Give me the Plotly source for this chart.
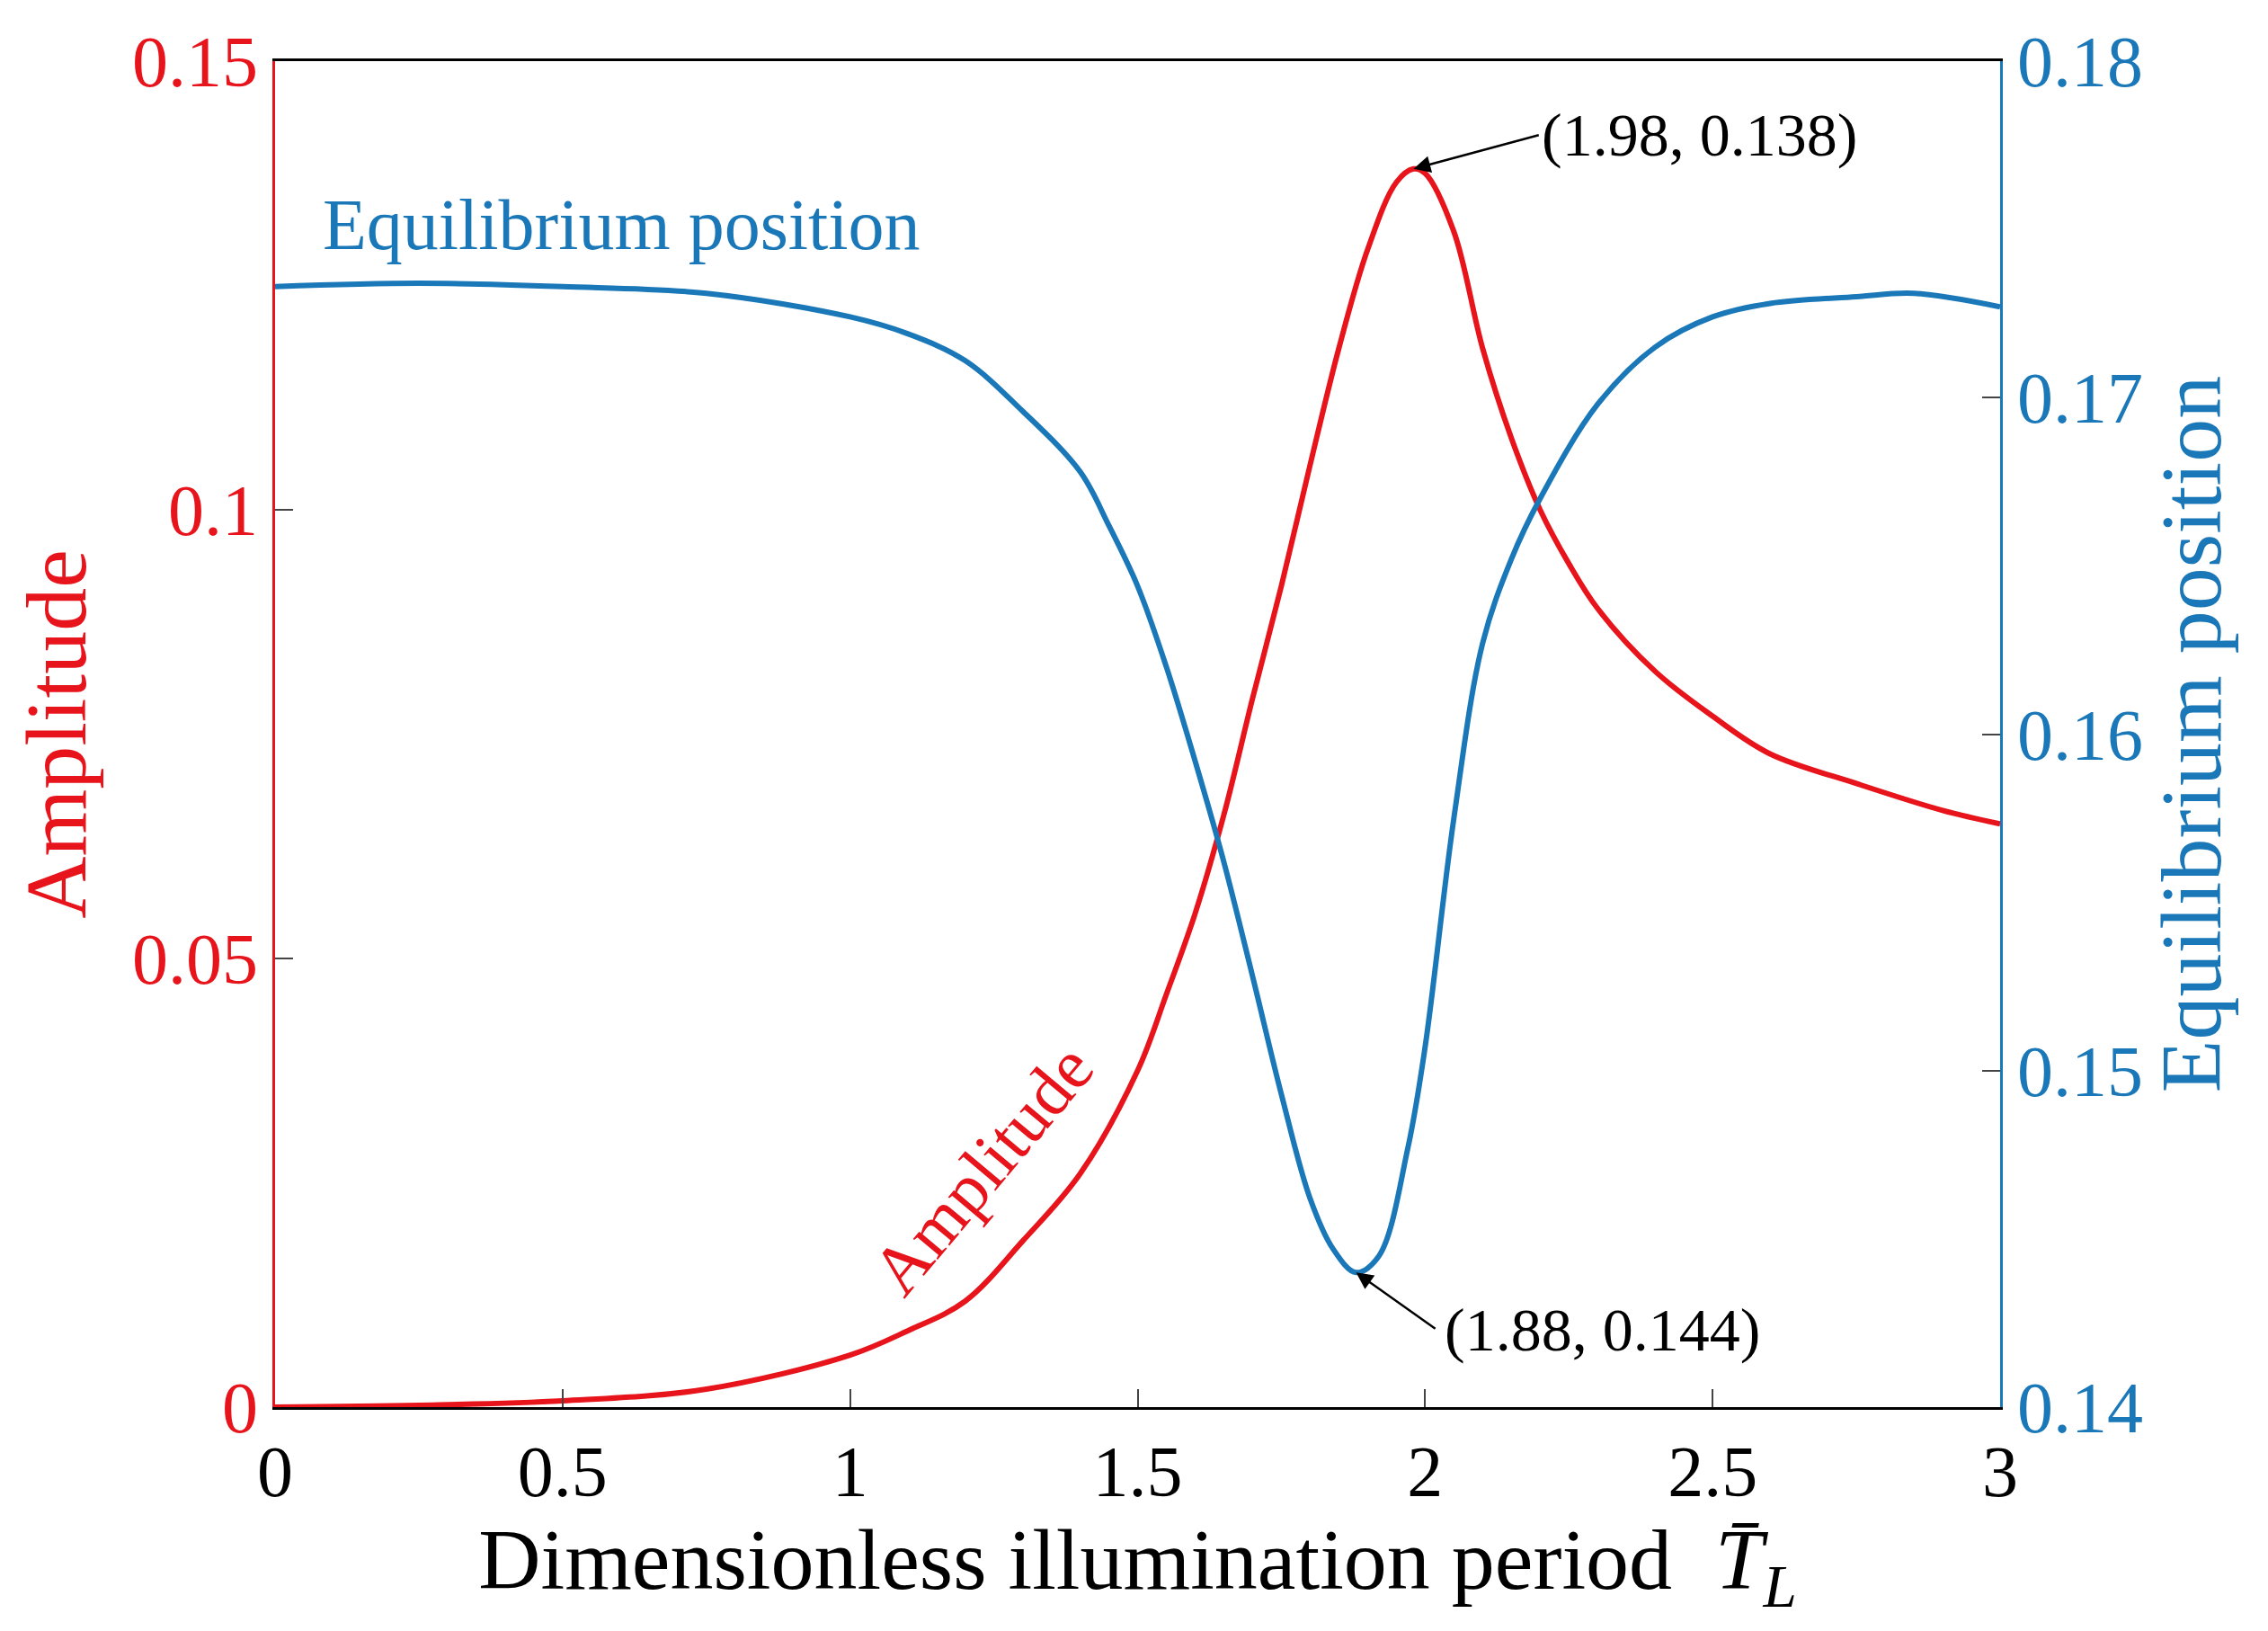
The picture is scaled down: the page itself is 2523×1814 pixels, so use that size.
import plotly.graph_objects as go

x_amp = [0, 0.25, 0.5, 0.75, 1.0, 1.1, 1.2, 1.3, 1.4, 1.5, 1.55, 1.6, 1.65, 1.7, 1.75, 1.8, 1.85, 1.9, 1.95, 1.98, 2.0, 2.05, 2.1, 2.15, 2.2, 2.25, 2.3, 2.4, 2.5, 2.6, 2.75, 2.9, 3.0]
amp =   [0, 0.0002, 0.0007, 0.002, 0.0058, 0.0085, 0.0118, 0.0185, 0.026, 0.0375, 0.046, 0.055, 0.066, 0.079, 0.0915, 0.105, 0.118, 0.129, 0.1365, 0.138, 0.1375, 0.131, 0.118, 0.108, 0.1, 0.094, 0.089, 0.082, 0.077, 0.0728, 0.0695, 0.0665, 0.065]

x_eq = [0, 0.25, 0.5, 0.75, 1.0, 1.1, 1.2, 1.3, 1.4, 1.45, 1.5, 1.55, 1.6, 1.65, 1.7, 1.75, 1.8, 1.84, 1.88, 1.92, 1.97, 2.0, 2.05, 2.1, 2.15, 2.2, 2.3, 2.4, 2.5, 2.6, 2.75, 2.85, 3.0]
eq =   [0.1733, 0.1734, 0.1733, 0.1731, 0.1724, 0.1719, 0.1711, 0.1696, 0.1678, 0.1662, 0.1644, 0.1620, 0.1592, 0.1562, 0.1528, 0.1493, 0.1462, 0.1447, 0.1440, 0.1445, 0.1477, 0.1507, 0.1575, 0.1627, 0.1652, 0.1670, 0.1698, 0.1715, 0.1724, 0.1728, 0.1730, 0.1731, 0.1727]

RED = "#e8141b"
BLUE = "#1a78b8"
FONT = "Liberation Serif"

fig = go.Figure()
fig.add_trace(go.Scatter(x=x_amp, y=amp, mode="lines", line=dict(color=RED, width=6, shape="spline", smoothing=1.0), showlegend=False))
fig.add_trace(go.Scatter(x=x_eq, y=eq, mode="lines", yaxis="y2", line=dict(color=BLUE, width=6, shape="spline", smoothing=1.0), showlegend=False))

fig.update_layout(
    width=2523, height=1814, plot_bgcolor="white", paper_bgcolor="white",
    margin=dict(l=298, r=306, t=60, b=257),
    font=dict(family=FONT, size=80, color="black"),
    xaxis=dict(range=[0, 3], tickvals=[0, 0.5, 1, 1.5, 2, 2.5, 3], ticktext=["0", "0.5", "1", "1.5", "2", "2.5", "3"],
               ticks="inside", ticklen=20, tickwidth=2, showline=True, linecolor="black", linewidth=3, mirror=True,
               showgrid=False, zeroline=False,
               title=dict(text="Dimensionless illumination period  <i>T̄</i><sub><i>L</i></sub>", standoff=20)),
    yaxis=dict(range=[0, 0.15], tickvals=[0, 0.05, 0.1, 0.15], ticktext=["0", "0.05", "0.1", "0.15"],
               ticks="inside", ticklen=20, tickwidth=2, showline=True, linecolor=RED, linewidth=3,
               tickfont=dict(color=RED), showgrid=False, zeroline=False,
               title=dict(text="Amplitude", font=dict(color=RED), standoff=20)),
    yaxis2=dict(range=[0.14, 0.18], tickvals=[0.14, 0.15, 0.16, 0.17, 0.18], overlaying="y", side="right",
                ticks="inside", ticklen=20, tickwidth=2, showline=True, linecolor=BLUE, linewidth=3,
                tickfont=dict(color=BLUE), showgrid=False, zeroline=False,
                title=dict(text="Equilibrium position", font=dict(color=BLUE), standoff=20)),
)

fig.add_annotation(x=0.08, y=0.1318, xref="x", yref="y", text="Equilibrium position", showarrow=False,
                   xanchor="left", font=dict(color=BLUE, size=80))
fig.add_annotation(x=1.23, y=0.0265, xref="x", yref="y", text="Amplitude", showarrow=False,
                   textangle=-50, font=dict(color=RED, size=78))
fig.add_annotation(x=1.98, y=0.138, xref="x", yref="y", ax=2.2, ay=0.1418, axref="x", ayref="y",
                   text="", showarrow=True, arrowhead=2, arrowsize=1.5, arrowwidth=2.5, arrowcolor="black")
fig.add_annotation(x=2.2, y=0.1418, xref="x", yref="y", text="(1.98, 0.138)", showarrow=False,
                   xanchor="left", font=dict(size=68))
fig.add_annotation(x=1.88, y=0.144, xref="x", yref="y2", ax=2.02, ay=0.1423, axref="x", ayref="y2",
                   text="", showarrow=True, arrowhead=2, arrowsize=1.5, arrowwidth=2.5, arrowcolor="black")
fig.add_annotation(x=2.03, y=0.1423, xref="x", yref="y2", text="(1.88, 0.144)", showarrow=False,
                   xanchor="left", font=dict(size=68))

fig.write_html("out.html")
